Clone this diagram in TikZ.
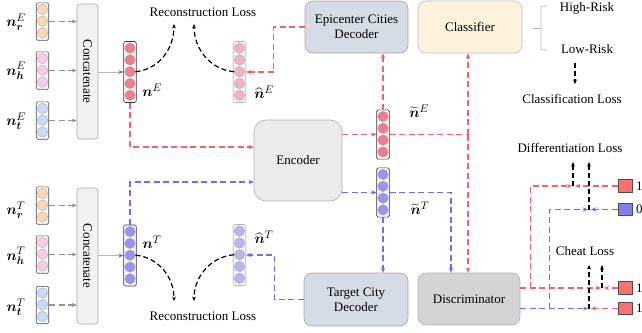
\documentclass[tikz,border=0pt]{standalone}
\usepackage{amsmath,bm}
\usepackage{fontspec}
\setmainfont{Liberation Serif}
\usetikzlibrary{arrows.meta,calc}
\definecolor{redL}{RGB}{240,98,114}
\definecolor{redM}{RGB}{214,108,124}
\definecolor{blueL}{RGB}{110,110,236}
\definecolor{cE}{RGB}{242,125,140}
\definecolor{cEh}{RGB}{247,176,190}
\definecolor{cT}{RGB}{150,150,240}
\definecolor{cTh}{RGB}{182,182,244}
\definecolor{cR}{RGB}{251,215,180}
\definecolor{cH}{RGB}{249,204,229}
\definecolor{cB}{RGB}{197,219,247}
\definecolor{decF}{RGB}{214,220,229}
\definecolor{clsF}{RGB}{253,242,220}
\definecolor{encF}{RGB}{235,235,235}
\definecolor{disF}{RGB}{212,212,212}
\definecolor{sqR}{RGB}{255,112,112}
\definecolor{sqB}{RGB}{128,128,240}
\definecolor{tipB}{RGB}{90,110,200}
\tikzset{
  vbox/.style={rectangle, rounded corners=1.5pt, line width=0.6pt, fill=white, minimum width=12.5pt, inner sep=0pt},
  vcirc/.style={circle, draw=black!35, line width=0.3pt, minimum size=10.6pt, inner sep=0pt},
  box/.style={rectangle, draw=gray!70, line width=0.6pt, align=center, inner sep=0pt},
  lab/.style={font=\fontsize{15}{17}\selectfont, inner sep=0pt},
  tip/.style={-{Stealth[length=5pt,width=4.2pt]}},
  dsh/.style={line width=1.3pt, dash pattern=on 6pt off 3.5pt},
  redd/.style={draw=redL, dsh, tip},
  redm/.style={draw=redM, dsh, tip},
  redn/.style={draw=redL, dsh},
  blued/.style={draw=blueL, dsh, tip},
  blkd/.style={draw=black, line width=1.2pt, dash pattern=on 5pt off 3pt, -{Stealth[length=4.5pt,width=3.8pt]}},
  grd/.style={draw=gray!85, dsh, tip},
  conarr/.style={draw=gray!55, line width=0.9pt, -{Stealth[length=5pt,width=4pt,color=tipB]}},
  sq/.style={rectangle, draw=black!70, line width=0.6pt, minimum width=14pt, minimum height=12.5pt, inner sep=0pt}
}
\newcommand{\vecnode}[6]{%
  \node[vbox, draw=#6, minimum height={#4*11.8+2}] (#1) at (#2,#3) {};
  \foreach \k in {1,...,#4} \node[vcirc, fill=#5] (#1-\k) at ($(#1.north)+(0,{1+5.9+11.8*(\k-1)})$) {};
}
\begin{document}
\begin{tikzpicture}[x=1pt,y=-1pt,font=\fontsize{13}{15}\selectfont]
\useasboundingbox (0,0) rectangle (642,332);
% input vectors
\vecnode{vrE}{42.5}{21.5}{3}{cR}{black!70}
\vecnode{vhE}{42.5}{70.5}{3}{cH}{black!70}
\vecnode{vtE}{42.5}{120.5}{3}{cB}{black!70}
\vecnode{vrT}{42.5}{205.5}{3}{cR}{black!70}
\vecnode{vhT}{42.5}{254.5}{3}{cH}{black!70}
\vecnode{vtT}{42.5}{305}{3}{cB}{black!70}
\node[lab] (lrE) at (16,22) {$\bm{n}_{\bm{r}}^{E}$};
\node[lab] (lhE) at (16,71) {$\bm{n}_{\bm{h}}^{E}$};
\node[lab] (ltE) at (16,121) {$\bm{n}_{\bm{t}}^{E}$};
\node[lab] (lrT) at (16,210) {$\bm{n}_{\bm{r}}^{T}$};
\node[lab] (lhT) at (16,256) {$\bm{n}_{\bm{h}}^{T}$};
\node[lab] (ltT) at (16,307) {$\bm{n}_{\bm{t}}^{T}$};
% concatenate
\node[box, fill=gray!10, rounded corners=3pt, minimum width=21pt, minimum height=135pt] (cE) at (87.5,71.5) {};
\node[rotate=-90] (cEt) at (cE) {Concatenate};
\node[box, fill=gray!10, rounded corners=3pt, minimum width=21pt, minimum height=136pt] (cT) at (87.5,256) {};
\node[rotate=-90] (cTt) at (cT) {Concatenate};
\foreach \v in {vrE,vhE,vtE} \draw[grd] (\v.east) -- (\v.east -| cE.west);
\foreach \v in {vrT,vhT,vtT} \draw[grd] (\v.east) -- (\v.east -| cT.west);
% main vectors
\vecnode{nE}{130}{72}{5}{cE}{black!80}
\vecnode{nT}{130}{255.5}{5}{cT}{black!80}
\vecnode{hE}{239.5}{72}{5}{cEh}{gray!60}
\vecnode{hT}{239.5}{255}{5}{cTh}{gray!60}
\vecnode{tE}{383}{134.5}{4}{cE}{black!80}
\vecnode{tT}{383}{192.5}{4}{cT}{black!80}
\node[lab] (lnE) at (152,90) {$\bm{n}^{E}$};
\node[lab] (lnT) at (152,242) {$\bm{n}^{T}$};
\node[lab] (lhEl) at (264,92) {$\widehat{\bm{n}}^{E}$};
\node[lab] (lhTl) at (264,237) {$\widehat{\bm{n}}^{T}$};
\node[lab] (ltEl) at (419,111) {$\widetilde{\bm{n}}^{E}$};
\node[lab] (ltTl) at (420,208) {$\widetilde{\bm{n}}^{T}$};
\draw[conarr] (cE.east |- nE.west) -- (nE.west);
\draw[conarr] (cT.east |- nT.west) -- (nT.west);
% blocks
\node[box, fill=encF, draw=gray!60, rounded corners=12pt, minimum width=88pt, minimum height=81pt] (enc) at (298,160.5) {Encoder};
\node[box, fill=decF, rounded corners=8pt, minimum width=103pt, minimum height=52pt] (epi) at (356.5,27) {Epicenter Cities\\Decoder};
\node[box, fill=clsF, draw=gray!50, rounded corners=8pt, minimum width=104pt, minimum height=52pt] (cls) at (470,27) {Classifier};
\node[box, fill=decF, rounded corners=8pt, minimum width=104pt, minimum height=53pt] (tcd) at (356,299.5) {Target City\\Decoder};
\node[box, fill=disF, draw=gray!60, rounded corners=8pt, minimum width=102pt, minimum height=52pt] (dis) at (469,299) {Discriminator};
% reconstruction losses
\node (recT) at (203,12) {Reconstruction Loss};
\node (recB) at (203,316) {Reconstruction Loss};
\coordinate (rA) at (174,24);
\coordinate (rB) at (194,24);
\coordinate (rC) at (174,301);
\coordinate (rD) at (194,301);
\draw[blkd] (nE-3.east) to[out=5,in=-90] (rA);
\draw[blkd] (hE-3.west) to[out=175,in=-90] (rB);
\draw[blkd] (nT-3.east) to[out=-5,in=90] (rC);
\draw[blkd] (hT-3.west) to[out=185,in=90] (rD);
% connectors to encoder
\draw[redd] (nE.south) |- ([yshift=13.5pt]enc.west);
\draw[blued] (nT.north) |- ([yshift=-21.5pt]enc.west);
\draw[redm] (enc.east |- tE.west) -- (tE.west);
\draw[blued] (enc.east |- tT.west) -- (tT.west);
\draw[redd] (tE.north) -- (tE.north |- epi.south);
\draw[blued] (tT.south) -- (tT.south |- tcd.north);
\draw[redd] (epi.west) -- ++(-31,0) |- (hE.east);
\draw[blued] (tcd.west) -- ++(-29,0) |- (hT.east);
\coordinate (jR) at (468,134.5);
\draw[redn] (tE.east) -- (jR);
\draw[redd] (jR) -- (jR |- cls.south);
\draw[redd] (jR) -- (jR |- dis.north);
\draw[blued] (tT.east) -| ([xshift=-18pt]dis.north);
% classifier outputs
\draw[gray!55, line width=0.7pt, rounded corners=2pt] (547,6) -- (541,6) -- (541,50) -- (547,50);
\draw[gray!55, line width=0.7pt] (533,28) -- (541,28);
\node (hr) at (587,8) {High-Risk};
\node (lr) at (587,49) {Low-Risk};
\node (clsl) at (572,99) {Classification Loss};
\coordinate (kA) at (575,63);
\draw[blkd] (kA) -- (575,84);
% discriminator outputs
\node (dlt) at (570,148) {Differentiation Loss};
\node (chl) at (585,251) {Cheat Loss};
\node[sq, fill=sqR] (s1) at (625,186) {};
\node[sq, fill=sqB] (s2) at (625,209.5) {};
\node[sq, fill=sqR] (s3) at (625,288) {};
\node[sq, fill=sqR] (s4) at (625,308.5) {};
\node[anchor=west, inner sep=0pt] (l1) at (636,186) {1};
\node[anchor=west, inner sep=0pt] (l2) at (636,209.5) {0};
\node[anchor=west, inner sep=0pt] (l3) at (636,288) {1};
\node[anchor=west, inner sep=0pt] (l4) at (636,308.5) {1};
\coordinate (dr) at ([yshift=11pt]dis.east);
\coordinate (db) at ([yshift=-9.5pt]dis.east);
\coordinate (kR) at ([xshift=10pt]dr);
\coordinate (kB) at ([xshift=29pt]db);
\coordinate (dA) at (573,186);
\coordinate (dB) at (589,209.5);
\coordinate (cA) at (602,288);
\coordinate (cB) at (589,308.5);
\draw[redd] (kR) |- ([xshift=-1pt]dA);
\draw[redd] (s1.west) -- ([xshift=2pt]dA);
\draw[blued] (kB) |- ([xshift=-1pt]dB);
\draw[blued] (s2.west) -- ([xshift=2pt]dB);
\draw[redd] (dr) -- ([xshift=-1pt]cA);
\draw[redd] (s3.west) -- ([xshift=2pt]cA);
\draw[blued] (db) -- ([xshift=-1pt]cB);
\draw[redm] (s4.west) -- ([xshift=2pt]cB);
\draw[blkd] (dA) -- (573,162);
\draw[blkd] (dB) -- (589,162);
\draw[blkd] (cA) -- (602,265);
\draw[blkd] (cB) -- (589,265);
\end{tikzpicture}
\end{document}
